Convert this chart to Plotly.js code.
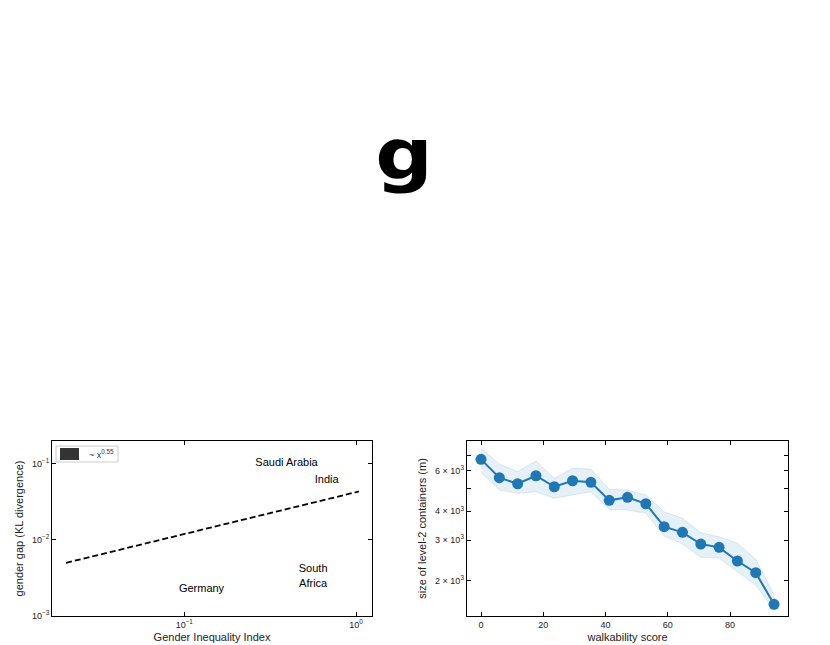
<!DOCTYPE html>
<html>
<head>
<meta charset="utf-8">
<script src="https://cdn.plot.ly/plotly-3.0.1.min.js"></script>
<style>html,body{margin:0;padding:0;background:#fff;}#chart{width:830px;height:645px;}</style>
</head>
<body>
<div id="chart"></div>
<script>
// ---- Left panel data ----
const countries = ["Saudi Arabia", "India", "Germany", "South<br>Africa"];
const countryGII = [0.394, 0.675, 0.126, 0.563];
const countryGap = [0.102, 0.0616, 0.00224, 0.00329];
const fitX = [0.0205, 1.04];
const fitY = [0.005, 0.0433];
const fitLabel = "~ x<sup>0.55</sup>";

// ---- Right panel data ----
const walkability = [0, 5.88, 11.76, 17.65, 23.53, 29.41, 35.29, 41.18, 47.06, 52.94, 58.82, 64.71, 70.59, 76.47, 82.35, 88.24, 94.12];
const containerSize = [6721, 5594, 5267, 5706, 5112, 5428, 5343, 4462, 4598, 4314, 3429, 3243, 2885, 2791, 2435, 2166, 1580];
const sizeUpper = [7502, 6412, 5940, 6607, 5559, 6143, 6101, 4981, 4947, 4706, 3983, 3729, 3230, 3103, 2906, 2476, 1734];
const sizeLower = [5880, 4947, 4786, 4863, 4553, 4706, 4863, 4079, 4051, 3920, 3124, 2885, 2527, 2502, 2188, 1916, 1493];
const sizeTickVals = [2000, 3000, 4000, 5000, 6000, 7000];
const sizeTickText = ["2 × 10<sup>3</sup>", "3 × 10<sup>3</sup>", "4 × 10<sup>3</sup>", "", "6 × 10<sup>3</sup>", ""];

const blue = "#1f77b4";
const font = "Liberation Sans, Arial, sans-serif";

const traces = [
  {
    x: fitX, y: fitY, xaxis: "x", yaxis: "y", mode: "lines",
    line: {color: "#000", width: 1.8, dash: "6px,3px"}, showlegend: false, hoverinfo: "skip"
  },
  {
    x: countryGII, y: countryGap, text: countries, xaxis: "x", yaxis: "y", mode: "text",
    textposition: "middle center", textfont: {family: font, size: 11, color: "#000"}, showlegend: false
  },
  {
    x: walkability.concat(walkability.slice().reverse()),
    y: sizeUpper.concat(sizeLower.slice().reverse()),
    xaxis: "x2", yaxis: "y2", mode: "lines", fill: "toself",
    fillcolor: "rgba(31,119,180,0.11)", line: {color: "rgba(31,119,180,0.13)", width: 1},
    showlegend: false, hoverinfo: "skip"
  },
  {
    x: walkability, y: containerSize, xaxis: "x2", yaxis: "y2", mode: "lines+markers",
    line: {color: blue, width: 2}, marker: {color: blue, size: 11}, showlegend: false
  }
];

const axisCommon = {
  showline: true, linecolor: "#000", linewidth: 1, mirror: "ticks",
  ticks: "inside", ticklen: 4, tickwidth: 1, tickcolor: "#000",
  showgrid: false, zeroline: false,
  tickfont: {family: font, size: 9, color: "#222"},
};

const layout = {
  width: 830, height: 645,
  margin: {l: 0, r: 0, t: 0, b: 0},
  paper_bgcolor: "#fff", plot_bgcolor: "#fff",
  showlegend: false,
  font: {family: font, color: "#000"},
  xaxis: Object.assign({}, axisCommon, {
    type: "log", domain: [52/830, 372/830], range: [-1.77, 0.093], anchor: "y",
    tickvals: [0.1, 1], ticktext: ["10<sup>−1</sup>", "10<sup>0</sup>"],
    title: {text: "Gender Inequality Index", font: {family: font, size: 11, color: "#222"}, standoff: 4}
  }),
  yaxis: Object.assign({}, axisCommon, {
    type: "log", domain: [29/645, 204/645], range: [-3, -0.70], anchor: "x",
    tickvals: [0.001, 0.01, 0.1], ticktext: ["10<sup>−3</sup>", "10<sup>−2</sup>", "10<sup>−1</sup>"],
    title: {text: "gender gap (KL divergence)", font: {family: font, size: 11, color: "#222"}, standoff: 6}
  }),
  xaxis2: Object.assign({}, axisCommon, {
    domain: [466.7/830, 788.3/830], range: [-4.6, 98.7], anchor: "y2",
    tickvals: [0, 20, 40, 60, 80],
    title: {text: "walkability score", font: {family: font, size: 11, color: "#222"}, standoff: 4}
  }),
  yaxis2: Object.assign({}, axisCommon, {
    type: "log", domain: [29/645, 204/645], range: [3.148, 3.907], anchor: "x2",
    tickvals: sizeTickVals, ticktext: sizeTickText,
    title: {text: "size of level-2 containers (m)", font: {family: font, size: 11, color: "#222"}, standoff: 6}
  }),
  shapes: [
    {type: "rect", xref: "paper", yref: "paper", x0: 56/830, x1: 118/830, y0: 1 - 462/645, y1: 1 - 446/645,
     line: {color: "#ccc", width: 1}, fillcolor: "rgba(255,255,255,0.8)"},
    {type: "rect", xref: "paper", yref: "paper", x0: 60/830, x1: 79/830, y0: 1 - 460/645, y1: 1 - 448/645,
     line: {width: 0}, fillcolor: "#333"}
  ],
  annotations: [
    {text: fitLabel, xref: "paper", yref: "paper", x: 87/830, y: 1 - 454/645, xanchor: "left", yanchor: "middle",
     showarrow: false, font: {family: font, size: 9, color: "#333"}},
    {text: "<b>g</b>", xref: "paper", yref: "paper", x: 404/830, y: 1 - 155/645, xanchor: "center", yanchor: "middle",
     showarrow: false, font: {family: "DejaVu Sans, sans-serif", size: 70, color: "#000"}}
  ]
};

Plotly.newPlot("chart", traces, layout, {displayModeBar: false, staticPlot: true}).then(function (gd) {
  // the reference glyph is drawn horizontally stretched
  const txt = gd.querySelectorAll(".annotation-text");
  txt.forEach(function (t) {
    if (t.textContent === "g") {
      t.style.transformBox = "fill-box";
      t.style.transformOrigin = "center";
      t.style.transform = "scaleX(1.15)";
    }
  });
});
</script>
</body>
</html>
